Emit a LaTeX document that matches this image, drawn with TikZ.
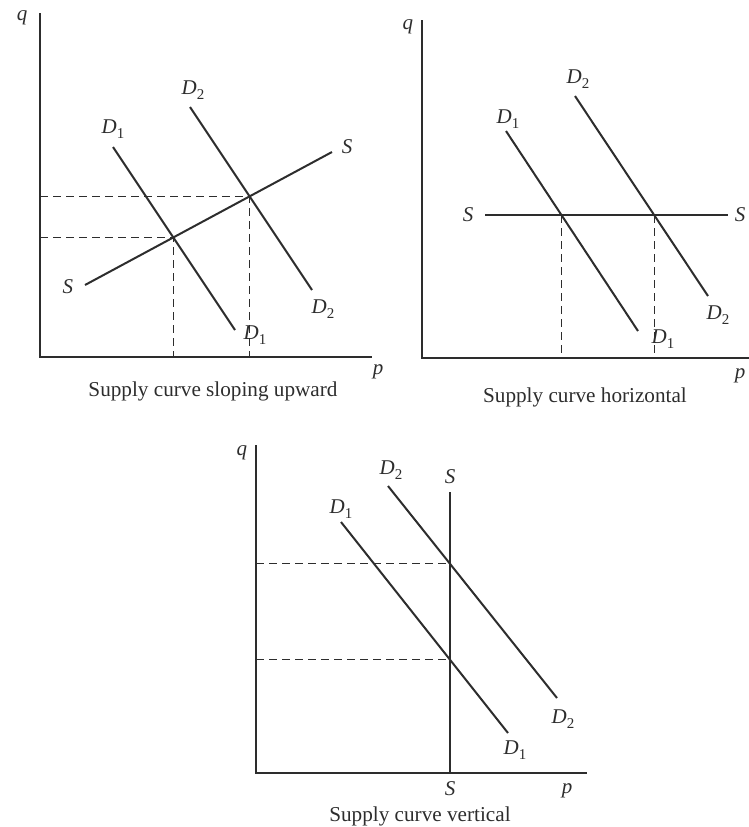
\documentclass[tikz,border=0pt]{standalone}
\usepackage{xcolor}
\usepackage{fontspec}
\setmainfont{Liberation Serif}
\usepackage{tikz}
\usetikzlibrary{positioning, calc}
\definecolor{inkgray}{RGB}{45, 45, 45}
\newcommand{\curvelab}[2]{\textit{#1}\raisebox{-0.55ex}{\fontsize{7.5}{8}\selectfont\upshape #2}}

\begin{document}
\begin{tikzpicture}[
    x=0.5pt, y=-0.5pt,
    axis/.style={draw=inkgray, line width=0.8pt},
    curve/.style={draw=inkgray, line width=1pt},
    guide/.style={draw=inkgray, line width=0.65pt, dash pattern=on 4pt off 2.5pt},
    lab/.style={text=inkgray, inner sep=0pt, font=\fontsize{10.5}{12}\selectfont\itshape},
    caption/.style={text=inkgray, inner sep=0pt, font=\fontsize{10.6}{12}\selectfont}
]
    \useasboundingbox (0,0) rectangle (749,827);

    % supply curve sloping upward
    \coordinate (o1) at (40,357);
    \coordinate (qtop1) at (40,13);
    \coordinate (pend1) at (372,357);
    \coordinate (d1a) at (113,147);  \coordinate (d1b) at (235,330);
    \coordinate (d2a) at (190,107);  \coordinate (d2b) at (312,290);
    \coordinate (s1a) at (85,285);   \coordinate (s1b) at (332,152);
    \coordinate (e1) at (intersection of d1a--d1b and s1a--s1b);
    \coordinate (e2) at (intersection of d2a--d2b and s1a--s1b);
    \draw[axis] (qtop1) -- (o1) -- (pend1);
    \draw[guide] (e1 -| o1) -- (e1) -- (e1 |- o1);
    \draw[guide] (e2 -| o1) -- (e2) -- (e2 |- o1);
    \draw[curve] (d1a) -- (d1b);
    \draw[curve] (d2a) -- (d2b);
    \draw[curve] (s1a) -- (s1b);
    \node[lab] (q1) at (22,18) {q};
    \node[lab] (p1) at (378,372) {p};
    \node[lab] (d1top1) at (113,129) {\curvelab{D}{1}};
    \node[lab] (d1bot1) at (255,335) {\curvelab{D}{1}};
    \node[lab] (d2top1) at (193,90) {\curvelab{D}{2}};
    \node[lab] (d2bot1) at (323,309) {\curvelab{D}{2}};
    \node[lab] (sleft1) at (68,287) {S};
    \node[lab] (sright1) at (347,147) {S};
    \node[caption] (cap1) at (213,391) {Supply curve sloping upward};

    % supply curve horizontal
    \coordinate (o2) at (422,358);
    \coordinate (qtop2) at (422,20);
    \coordinate (pend2) at (749,358);
    \coordinate (h1a) at (506,131);  \coordinate (h1b) at (638,331);
    \coordinate (h2a) at (575,96);   \coordinate (h2b) at (708,296);
    \coordinate (s2a) at (485,215);  \coordinate (s2b) at (728,215);
    \coordinate (f1) at (intersection of h1a--h1b and s2a--s2b);
    \coordinate (f2) at (intersection of h2a--h2b and s2a--s2b);
    \draw[axis] (qtop2) -- (o2) -- (pend2);
    \draw[guide] (f1) -- (f1 |- o2);
    \draw[guide] (f2) -- (f2 |- o2);
    \draw[curve] (h1a) -- (h1b);
    \draw[curve] (h2a) -- (h2b);
    \draw[curve] (s2a) -- (s2b);
    \node[lab] (q2) at (408,27) {q};
    \node[lab] (p2) at (740,376) {p};
    \node[lab] (d1top2) at (508,119) {\curvelab{D}{1}};
    \node[lab] (d1bot2) at (663,339) {\curvelab{D}{1}};
    \node[lab] (d2top2) at (578,79) {\curvelab{D}{2}};
    \node[lab] (d2bot2) at (718,315) {\curvelab{D}{2}};
    \node[lab] (sleft2) at (468,215) {S};
    \node[lab] (sright2) at (740,215) {S};
    \node[caption] (cap2) at (585,397) {Supply curve horizontal};

    % supply curve vertical
    \coordinate (o3) at (256,773);
    \coordinate (qtop3) at (256,445);
    \coordinate (pend3) at (587,773);
    \coordinate (v1a) at (341,522);  \coordinate (v1b) at (508,733);
    \coordinate (v2a) at (388,486);  \coordinate (v2b) at (557,698);
    \coordinate (s3a) at (450,492);  \coordinate (s3b) at (450,773);
    \coordinate (g1) at (intersection of v1a--v1b and s3a--s3b);
    \coordinate (g2) at (intersection of v2a--v2b and s3a--s3b);
    \draw[axis] (qtop3) -- (o3) -- (pend3);
    \draw[guide] (g1 -| o3) -- (g1);
    \draw[guide] (g2 -| o3) -- (g2);
    \draw[curve] (v1a) -- (v1b);
    \draw[curve] (v2a) -- (v2b);
    \draw[curve] (s3a) -- (s3b);
    \node[lab] (q3) at (242,453) {q};
    \node[lab] (p3) at (567,791) {p};
    \node[lab] (d1top3) at (341,509) {\curvelab{D}{1}};
    \node[lab] (d1bot3) at (515,750) {\curvelab{D}{1}};
    \node[lab] (d2top3) at (391,470) {\curvelab{D}{2}};
    \node[lab] (d2bot3) at (563,719) {\curvelab{D}{2}};
    \node[lab] (stop3) at (450,477) {S};
    \node[lab] (sbot3) at (450,789) {S};
    \node[caption] (cap3) at (420,816) {Supply curve vertical};
\end{tikzpicture}
\end{document}
